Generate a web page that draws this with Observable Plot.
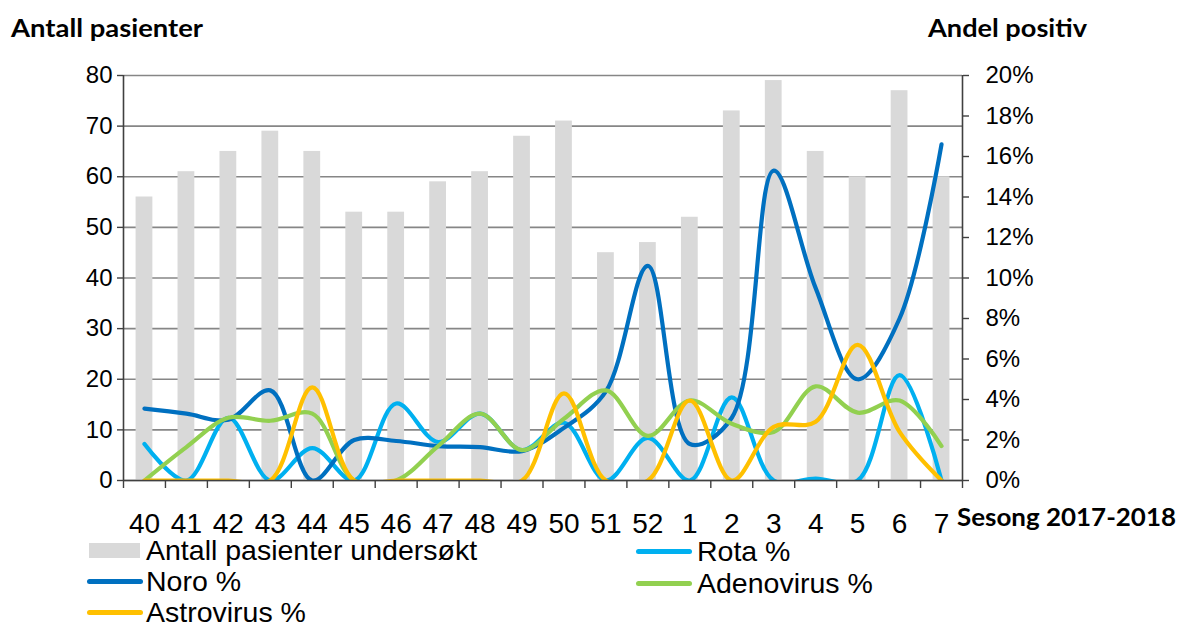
<!DOCTYPE html>
<html>
<head>
<meta charset="utf-8">
<script src="https://cdn.jsdelivr.net/npm/d3@7"></script>
<script src="https://cdn.jsdelivr.net/npm/@observablehq/plot@0.6"></script>
<style>
  html, body { margin: 0; padding: 0; background: #fff; }
  #wrap { position: relative; width: 1180px; height: 625px; overflow: hidden; font-family: "Liberation Sans", Arial, sans-serif; }
  #wrap svg { position: absolute; left: 0; top: 0; }
  .ttl { position: absolute; font-family: Lato, "Open Sans", sans-serif; font-weight: 700; font-size: 25px; color: #000; white-space: nowrap; line-height: 1; transform-origin: 0 50%; }
  .leg { position: absolute; font-size: 28.5px; color: #000; white-space: nowrap; line-height: 1; }
  .sw { position: absolute; }
</style>
</head>
<body>
<div id="wrap"></div>
<script>
// ---- data ----
const weeks = ["40","41","42","43","44","45","46","47","48","49","50","51","52","1","2","3","4","5","6","7"];
const antall = [56,61,65,69,65,53,53,59,61,68,71,45,47,52,73,79,65,60,77,60];
const noro   = [3.55,3.3,3.0,4.45,0,2.0,1.95,1.7,1.65,1.45,2.6,4.4,10.6,1.8,3.1,15.3,9.5,5.0,8.0,16.6];
const rota   = [1.8,0,3.1,0,1.6,0,3.8,1.9,3.3,1.5,2.85,0,2.1,0,4.1,0,0.1,0,5.2,0];
const adeno  = [0,1.65,3.1,2.95,3.3,0,0,1.7,3.3,1.5,3.05,4.45,2.2,3.95,2.8,2.4,4.65,3.35,3.95,1.7];
const astro  = [0,0,0,0,4.6,0,0,0,0,0,4.3,0,0,3.95,0,2.65,2.9,6.7,2.4,0];
const countTicks = [0,10,20,30,40,50,60,70,80];
const pctTicks = [0,2,4,6,8,10,12,14,16,18,20];
const seriesNames  = ["Rota %","Noro %","Adenovirus %","Astrovirus %"];
const seriesColors = ["#00B0F0","#0070C0","#92D050","#FFC000"];
const seriesValues = [rota, noro, adeno, astro];
const barName = "Antall pasienter undersøkt";
const barColor = "#D9D9D9";

// ---- layout ----
const W = 1180, H = 625, mL = 123, mR = 218, mT = 75, mB = 145;
const PCT = 80 / 20;               // right axis 0–20% maps onto 0–80
const step = (W - mL - mR) / weeks.length;
const unitPx = (H - mT - mB) / 80;

const rows = weeks.map((w, i) => ({week: w, antall: antall[i]}));
const lineRows = [];
seriesNames.forEach((name, s) => weeks.forEach((w, i) => lineRows.push({week: w, series: name, value: seriesValues[s][i]})));

const lineMarks = seriesNames.map((name, s) =>
  Plot.line(lineRows.filter(d => d.series === name), {
    x: "week", y: d => d.value * PCT, stroke: seriesColors[s], strokeWidth: 4.2,
    curve: "catmull-rom", strokeLinecap: "round", strokeLinejoin: "round", clip: true
  })
);

const chart = Plot.plot({
  width: W, height: H,
  marginTop: mT, marginBottom: mB, marginLeft: mL, marginRight: mR,
  x: {type: "band", domain: weeks, paddingInner: 0.6, paddingOuter: 0.3, round: false, label: null},
  y: {domain: [0, 80], label: null},
  style: {fontFamily: "Liberation Sans, Arial, sans-serif", background: "transparent", overflow: "visible", color: "#000"},
  marks: [
    Plot.gridY(countTicks, {stroke: "#868686", strokeOpacity: 1, strokeWidth: 1.6}),
    Plot.barY(rows, {x: "week", y: "antall", fill: barColor}),
    ...lineMarks,
    Plot.ruleY([0], {stroke: "#404040", strokeWidth: 1.6}),
    Plot.ruleX([weeks[0]], {y1: 0, y2: 80, dx: -step / 2, stroke: "#404040", strokeWidth: 1.6}),
    Plot.ruleX([weeks[weeks.length - 1]], {y1: 0, y2: 80, dx: step / 2, stroke: "#404040", strokeWidth: 1.6}),
    Plot.ruleX(weeks, {y1: 0, y2: -8 / unitPx, dx: -step / 2, stroke: "#404040", strokeWidth: 1.4}),
    Plot.ruleX([weeks[weeks.length - 1]], {y1: 0, y2: -8 / unitPx, dx: step / 2, stroke: "#404040", strokeWidth: 1.4}),
    Plot.axisX({tickSize: 0, tickPadding: 33, fontSize: 28, fill: "#000", label: null}),
    Plot.axisY(countTicks, {anchor: "left", tickSize: 6, tickPadding: 5, fontSize: 24, stroke: "#404040", fill: "#000", strokeWidth: 1.4, label: null}),
    Plot.axisY(pctTicks.map(p => p * PCT), {anchor: "right", tickSize: 6, tickPadding: 17, fontSize: 24, stroke: "#404040", fill: "#000", strokeWidth: 1.4, label: null,
      tickFormat: d => (d / PCT) + "%"})
  ]
});

const wrap = document.getElementById("wrap");
wrap.appendChild(chart);

function addDiv(cls, text, left, top, extra) {
  const d = document.createElement("div");
  d.className = cls;
  d.textContent = text;
  d.style.left = left + "px";
  d.style.top = top + "px";
  if (extra) Object.assign(d.style, extra);
  wrap.appendChild(d);
  return d;
}
function fitWidth(el, target) {
  const w = el.getBoundingClientRect().width;
  if (w > 0) el.style.transform = `scaleX(${target / w})`;
}
fitWidth(addDiv("ttl", "Antall pasienter", 11, 15), 192);
fitWidth(addDiv("ttl", "Andel positiv", 928, 15), 159);
fitWidth(addDiv("ttl", "Sesong 2017-2018", 957, 504), 219);

// legend
function swatchRect(left, top, w, h, color) {
  const d = document.createElement("div");
  d.className = "sw";
  Object.assign(d.style, {left: left + "px", top: top + "px", width: w + "px", height: h + "px", background: color});
  wrap.appendChild(d);
}
function swatchLine(left, cy, w, color) {
  const d = document.createElement("div");
  d.className = "sw";
  Object.assign(d.style, {left: left + "px", top: (cy - 2.5) + "px", width: w + "px", height: "5px", background: color, borderRadius: "3px"});
  wrap.appendChild(d);
}
swatchRect(89, 543, 51, 15, barColor);
addDiv("leg", barName, 146, 536);
const legendPos = [[636, 551, 697], [87, 581, 146], [636, 583, 697], [87, 612, 146]];
seriesNames.forEach((name, s) => {
  const [sx, cy, tx] = legendPos[s];
  swatchLine(sx, cy, 56, seriesColors[s]);
  addDiv("leg", name, tx, cy - 14);
});
</script>
</body>
</html>
